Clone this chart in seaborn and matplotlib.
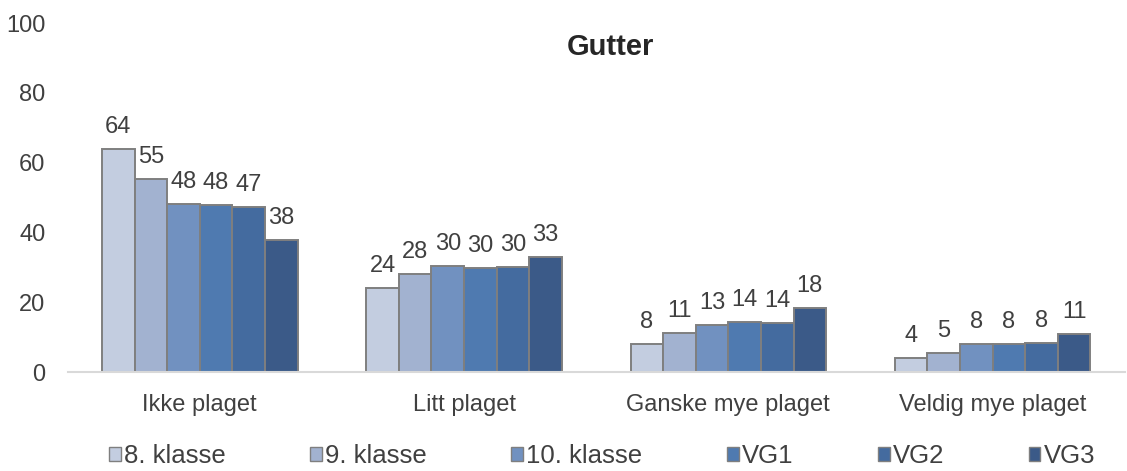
import matplotlib
matplotlib.use("Agg")
import matplotlib.pyplot as plt
import seaborn as sns
import pandas as pd
from matplotlib.patches import Patch

# Andel gutter (%) etter hvor plaget de er, per klassetrinn
kategorier = ["Ikke plaget", "Litt plaget", "Ganske mye plaget", "Veldig mye plaget"]
trinn = ["8. klasse", "9. klasse", "10. klasse", "VG1", "VG2", "VG3"]
klasse8 = [63.8, 24.0, 8.0, 4.1]
klasse9 = [55.2, 28.0, 11.3, 5.4]
klasse10 = [48.2, 30.4, 13.4, 8.0]
vg1 = [47.9, 29.8, 14.3, 8.0]
vg2 = [47.4, 30.2, 14.1, 8.2]
vg3 = [37.9, 33.0, 18.3, 10.8]
yticks = [0, 20, 40, 60, 80, 100]

farger = ["#C3CDE0", "#A2B2D0", "#7191C0", "#4F7AB0", "#446B9F", "#3B5A88"]

serier = [klasse8, klasse9, klasse10, vg1, vg2, vg3]
rows = []
for navn, verdier in zip(trinn, serier):
    for kat, v in zip(kategorier, verdier):
        rows.append({"kategori": kat, "trinn": navn, "prosent": v})
df = pd.DataFrame(rows)

sns.set_theme(style="white")
plt.rcParams["font.family"] = ["Liberation Sans", "DejaVu Sans"]
tekstfarge = "#404040"

fig = plt.figure(figsize=(11.27, 4.71), dpi=100)
ax = fig.add_axes([0.060, 0.210, 0.938, 0.741])

sns.barplot(data=df, x="kategori", y="prosent", hue="trinn",
            order=kategorier, hue_order=trinn, palette=farger, saturation=1,
            edgecolor="#7F7F7F", linewidth=1.4, width=0.74,
            errorbar=None, legend=False, ax=ax)

for cont in ax.containers:
    ax.bar_label(cont, fmt="%.0f", padding=8, fontsize=17, color=tekstfarge)

ax.set_ylim(0, 100)
ax.set_yticks(yticks)
ax.set_yticklabels([str(t) for t in yticks])
ax.set_xlim(-0.5, 3.5)
ax.set_xlabel("")
ax.set_ylabel("")
ax.tick_params(axis="y", length=0, pad=16, labelsize=17, labelcolor=tekstfarge)
ax.tick_params(axis="x", length=0, pad=16, labelsize=17, labelcolor=tekstfarge)
for side in ["top", "right", "left"]:
    ax.spines[side].set_visible(False)
ax.spines["bottom"].set_color("#D9D9D9")
ax.spines["bottom"].set_linewidth(1.5)
ax.grid(False)

fig.text(610 / 1127, 1 - 47 / 471, "Gutter", ha="center", va="center",
         fontsize=21, fontweight="bold", color="#262626")

handles = [Patch(facecolor=c, edgecolor="#7F7F7F", linewidth=1.0) for c in farger]
fig.legend(handles, trinn, loc="center", bbox_to_anchor=(602 / 1127, 1 - 456 / 471),
           ncol=6, frameon=False, fontsize=18.5, handlelength=0.45, handleheight=0.45,
           handletextpad=0.12, columnspacing=3.3, labelcolor=tekstfarge,
           borderpad=0, borderaxespad=0)

fig.savefig("out.png", dpi=100)
